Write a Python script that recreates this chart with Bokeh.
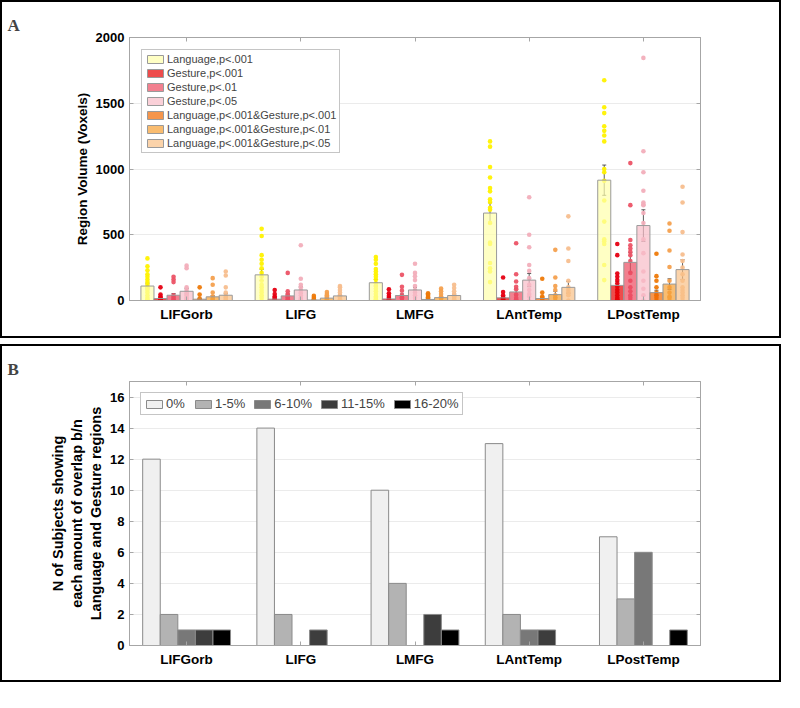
from bokeh.plotting import figure
from bokeh.models import (ColumnDataSource, Whisker, TeeHead, Legend, LegendItem,
                          FixedTicker, LinearAxis, Range1d)
from bokeh.layouts import column
from bokeh.embed import file_html
from bokeh.resources import INLINE

# ---------------- data: panel A ----------------
regions = ["LIFGorb", "LIFG", "LMFG", "LAntTemp", "LPostTemp"]
series_labels = ["Language,p<.001", "Gesture,p<.001", "Gesture,p<.01", "Gesture,p<.05",
                 "Language,p<.001&Gesture,p<.001", "Language,p<.001&Gesture,p<.01",
                 "Language,p<.001&Gesture,p<.05"]

lang_mean = [110, 195, 135, 665, 915]
lang_sem = [22, 42, 25, 78, 115]
g001_mean = [15, 10, 12, 20, 115]
g001_sem = [7, 6, 6, 11, 30]
g01_mean = [40, 35, 38, 65, 290]
g01_sem = [13, 14, 12, 25, 75]
g05_mean = [70, 80, 80, 155, 570]
g05_sem = [20, 25, 20, 50, 120]
lg001_mean = [10, 4, 8, 15, 60]
lg001_sem = [6, 3, 4, 10, 18]
lg01_mean = [28, 18, 22, 45, 125]
lg01_sem = [10, 6, 7, 25, 40]
lg05_mean = [40, 35, 38, 100, 235]
lg05_sem = [14, 9, 10, 45, 75]

lang_pts = [[320, 260, 230, 200, 180, 160, 140, 120, 100, 80, 60, 40, 20, 10, 0],
            [545, 490, 345, 310, 280, 245, 210, 180, 150, 120, 100, 80, 60, 40, 20, 0],
            [330, 310, 280, 240, 220, 200, 180, 160, 130, 110, 90, 70, 50, 30, 20, 10, 0],
            [1210, 1170, 1015, 935, 855, 830, 770, 750, 705, 690, 590, 440, 430, 285, 245, 220, 140],
            [1675, 1470, 1425, 1325, 1290, 1255, 1210, 1000, 975, 910, 760, 600, 465, 450, 430, 270, 155]]
g001_pts = [[100, 45, 30, 20, 10, 5, 0],
            [80, 50, 30, 20, 10, 0],
            [85, 55, 35, 20, 10, 0],
            [175, 65, 40, 25, 15, 10, 0],
            [430, 345, 205, 180, 155, 130, 105, 80, 60, 40, 20, 10, 0]]
g01_pts = [[180, 160, 140, 40, 20, 10, 0],
           [210, 70, 50, 40, 30, 20, 10, 0],
           [195, 105, 75, 40, 25, 15, 0],
           [435, 200, 145, 105, 85, 45, 20, 10, 0],
           [1045, 725, 460, 420, 395, 370, 345, 300, 210, 150, 100, 70, 40, 20, 0]]
g05_pts = [[265, 245, 100, 80, 60, 40, 20, 10, 0],
           [420, 165, 120, 100, 80, 60, 40, 20, 10, 0],
           [280, 210, 185, 155, 110, 80, 60, 40, 20, 0],
           [785, 500, 405, 270, 225, 170, 120, 80, 50, 30, 0],
           [1845, 1135, 975, 835, 745, 730, 725, 665, 590, 465, 360, 220, 150, 90, 40, 0]]
lg001_pts = [[100, 45, 15, 5, 0],
             [35, 20, 10, 0],
             [55, 45, 35, 25, 15, 5, 0],
             [165, 60, 30, 20, 0],
             [355, 185, 150, 100, 60, 40, 20, 0]]
lg01_pts = [[170, 120, 60, 30, 10, 0],
            [65, 50, 40, 30, 20, 10, 0],
            [90, 70, 50, 30, 15, 0],
            [385, 175, 110, 80, 40, 20, 0],
            [585, 530, 380, 255, 150, 100, 60, 30, 20, 0]]
lg05_pts = [[220, 190, 100, 60, 40, 20, 10, 0],
            [110, 100, 80, 60, 40, 30, 20, 10, 0],
            [120, 95, 70, 50, 30, 20, 10, 0],
            [640, 395, 300, 150, 100, 80, 60, 40, 0],
            [865, 745, 520, 350, 300, 250, 200, 150, 100, 80, 60, 40, 20, 0]]

# ---------------- data: panel B ----------------
overlap_labels = ["0%", "1-5%", "6-10%", "11-15%", "16-20%"]
n_0 = [12, 14, 10, 13, 7]
n_1_5 = [2, 2, 4, 2, 3]
n_6_10 = [1, 0, 0, 1, 6]
n_11_15 = [1, 1, 2, 1, 0]
n_16_20 = [1, 0, 1, 0, 1]

# ---------------- styles ----------------
FONT = "Liberation Sans"
AXC = "#A6A6A6"
bar_fills = ["#FFFFAB", "#E70000", "#EC4A60", "#F8BCC7", "#F16800", "#F69F33", "#F9C086"]
dot_colors = ["#FFF200", "#E60012", "#EC5366", "#F2AEBB", "#EE7A0A", "#F4A04E", "#F7BE8E"]
gray_fills = ["#F0F0F0", "#B3B3B3", "#787878", "#3D3D3D", "#000000"]

W, H = 781, 338
ML, MT = 127, 35
XMIN, XMAX = 0.5, 5.5
CAT_TICKS = [1, 2, 3, 4, 5]


def base_fig(panel_letter, ymax, yticks, mb_right, mb_bottom):
    p = figure(width=W, height=H, x_range=Range1d(XMIN, XMAX), y_range=Range1d(0, ymax),
               output_backend="svg", toolbar_location=None,
               min_border_left=ML, min_border_right=mb_right,
               min_border_top=MT, min_border_bottom=mb_bottom,
               title=panel_letter, title_location="above",
               styles={"border": "2px solid black"})
    p.title.text_font = "Liberation Serif"
    p.title.text_font_style = "bold"
    p.title.text_font_size = "17px"
    p.title.align = "left"
    p.title.offset = -122
    p.title.standoff = 6
    p.outline_line_color = AXC
    p.xgrid.grid_line_color = None
    p.ygrid.grid_line_color = "#EBEBEB"
    p.xaxis.ticker = FixedTicker(ticks=CAT_TICKS)
    p.xaxis.major_label_overrides = {i + 1: r for i, r in enumerate(regions)}
    p.yaxis.ticker = FixedTicker(ticks=yticks)
    for ax in p.xaxis + p.yaxis:
        ax.axis_line_color = AXC
        ax.major_tick_line_color = AXC
        ax.major_tick_in = 4
        ax.major_tick_out = 0
        ax.minor_tick_line_color = None
        ax.major_label_text_font = FONT
        ax.major_label_text_font_style = "bold"
        ax.major_label_text_color = "black"
    p.yaxis.major_label_text_font_size = "13px"
    p.xaxis.major_label_text_font_size = "13.5px"
    p.xaxis.major_label_standoff = 6
    p.yaxis.axis_label_text_font = FONT
    p.yaxis.axis_label_text_font_style = "bold"
    p.yaxis.axis_label_text_color = "black"
    # box-edge axes with inward ticks only (MATLAB "box on")
    top = LinearAxis(ticker=FixedTicker(ticks=CAT_TICKS), major_label_text_font_size="0px",
                     axis_line_color=AXC, major_tick_line_color=AXC, major_tick_in=4,
                     major_tick_out=0, minor_tick_line_color=None, major_label_standoff=0)
    right = LinearAxis(ticker=FixedTicker(ticks=yticks), major_label_text_font_size="0px",
                       axis_line_color=AXC, major_tick_line_color=AXC, major_tick_in=4,
                       major_tick_out=0, minor_tick_line_color=None, major_label_standoff=0)
    p.add_layout(top, "above")
    p.add_layout(right, "right")
    return p


# ---------------- panel A ----------------
pA = base_fig("A", 2000, [0, 500, 1000, 1500, 2000], 81, 40)
pA.yaxis[0].axis_label = "Region Volume (Voxels)"
pA.yaxis[0].axis_label_text_font_size = "13.5px"
pA.yaxis[0].axis_label_standoff = 3

means = [lang_mean, g001_mean, g01_mean, g05_mean, lg001_mean, lg01_mean, lg05_mean]
sems = [lang_sem, g001_sem, g01_sem, g05_sem, lg001_sem, lg01_sem, lg05_sem]
pts = [lang_pts, g001_pts, g01_pts, g05_pts, lg001_pts, lg01_pts, lg05_pts]
nA = len(series_labels)
wA = 0.8 / nA

bar_renderers = []
for j in range(nA):
    off = (j - (nA - 1) / 2) * wA
    xs = [i + 1 + off for i in range(len(regions))]
    dx, dy = [], []
    for i, vals in enumerate(pts[j]):
        dx += [xs[i]] * len(vals)
        dy += vals
    pA.scatter(dx, dy, size=4.6, fill_color=dot_colors[j], line_color=None, fill_alpha=0.95)
for j in range(nA):
    off = (j - (nA - 1) / 2) * wA
    xs = [i + 1 + off for i in range(len(regions))]
    r = pA.vbar(x=xs, top=means[j], width=wA, bottom=0, fill_color=bar_fills[j],
                fill_alpha=0.7, line_color="#9A9A9A", line_width=1)
    bar_renderers.append(r)
    src = ColumnDataSource(dict(x=xs, lo=[m - s for m, s in zip(means[j], sems[j])],
                                hi=[m + s for m, s in zip(means[j], sems[j])]))
    pA.add_layout(Whisker(base="x", lower="lo", upper="hi", source=src, line_color="#333333",
                          line_width=0.8,
                          upper_head=TeeHead(size=4, line_color="#333333", line_width=0.8),
                          lower_head=TeeHead(size=4, line_color="#333333", line_width=0.8)))

legA = Legend(items=[LegendItem(label=series_labels[j], renderers=[bar_renderers[j]]) for j in range(nA)],
              location="top_left", margin=12, padding=3, spacing=2,
              glyph_width=20, glyph_height=10, label_height=12, label_standoff=2,
              label_text_font=FONT, label_text_font_size="11px",
              border_line_color="#8C8C8C", background_fill_alpha=1)
pA.add_layout(legA)

# ---------------- panel B ----------------
pB = base_fig("B", 17, [0, 2, 4, 6, 8, 10, 12, 14, 16], 83, 39)
pB.yaxis[0].axis_label = "N of Subjects showing\neach amount of overlap b/n\nLanguage and Gesture regions"
pB.yaxis[0].axis_label_text_font_size = "14.5px"
pB.yaxis[0].axis_label_standoff = 3

counts = [n_0, n_1_5, n_6_10, n_11_15, n_16_20]
nB = len(overlap_labels)
wB = (nB / (nB + 1.5)) / nB
b_renderers = []
for j in range(nB):
    off = (j - (nB - 1) / 2) * wB
    xs = [i + 1 + off for i in range(len(regions))]
    r = pB.vbar(x=xs, top=counts[j], width=wB, bottom=0, fill_color=gray_fills[j],
                line_color="#8A8A8A", line_width=1)
    b_renderers.append(r)

legB = Legend(items=[LegendItem(label=overlap_labels[j], renderers=[b_renderers[j]]) for j in range(nB)],
              location="top_left", orientation="horizontal", margin=11, padding=3, spacing=7,
              glyph_width=20, glyph_height=10, label_height=13, label_standoff=2,
              label_text_font=FONT, label_text_font_size="13px",
              border_line_color="#8C8C8C", background_fill_alpha=1)
pB.add_layout(legB)

layout = column(pA, pB, spacing=6)
open("out.html", "w").write(file_html(layout, INLINE))
